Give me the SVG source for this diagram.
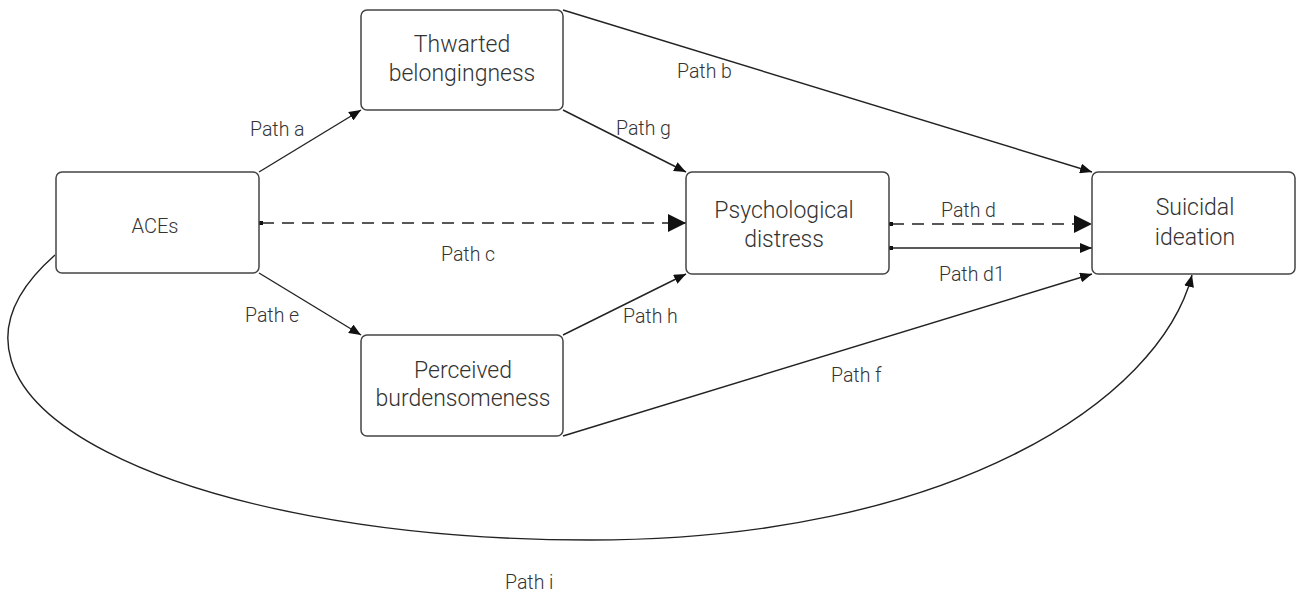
<svg xmlns="http://www.w3.org/2000/svg" width="1296" height="592" viewBox="0 0 1296 592">
  <defs>
    <marker id="arr" markerUnits="userSpaceOnUse" markerWidth="12" markerHeight="10" refX="12" refY="5" orient="auto">
      <path d="M0,0 L12,5 L0,10 z" fill="#111"/>
    </marker>
    <marker id="arrBig" markerUnits="userSpaceOnUse" markerWidth="18" markerHeight="18" refX="18" refY="9" orient="auto">
      <path d="M0,0 L18,9 L0,18 z" fill="#111"/>
    </marker>
    <style>
      .box { fill: #fff; stroke: #444; stroke-width: 1.5; }
      .ntext { font-family: Roboto, "Liberation Sans", sans-serif; font-weight: 300; font-size: 23px; fill: #333; text-anchor: middle; }
      .small { font-size: 20px; }
      .lbl { font-family: Roboto, "Liberation Sans", sans-serif; font-weight: 300; font-size: 19.5px; fill: #333; }
      .ln { fill: none; stroke: #222; stroke-width: 1.4; }
      .dash { fill: none; stroke: #222; stroke-width: 1.6; stroke-dasharray: 12 8; }
    </style>
  </defs>
  <rect width="1296" height="592" fill="#fff"/>

  <g id="connectors">
    <line class="ln" x1="259" y1="172" x2="361" y2="110" marker-end="url(#arr)"/>
    <line class="ln" x1="563" y1="10" x2="1092" y2="172" marker-end="url(#arr)"/>
    <line class="ln" x1="563" y1="110" x2="686" y2="172" marker-end="url(#arr)"/>
    <line class="dash" x1="262" y1="223" x2="686" y2="223" marker-end="url(#arrBig)"/>
    <rect x="259" y="221" width="4" height="4" fill="#111"/>
    <line class="ln" x1="259" y1="273" x2="361" y2="335" marker-end="url(#arr)"/>
    <line class="ln" x1="563" y1="335" x2="686" y2="274" marker-end="url(#arr)"/>
    <line class="ln" x1="563" y1="436" x2="1092" y2="274" marker-end="url(#arr)"/>
    <line class="dash" x1="892" y1="224" x2="1092" y2="224" marker-end="url(#arrBig)"/>
    <rect x="889" y="222" width="4" height="4" fill="#111"/>
    <line class="ln" x1="889" y1="248" x2="1092" y2="248" marker-end="url(#arr)"/>
    <rect x="889" y="246" width="4" height="4" fill="#111"/>
    <path class="ln" d="M55,255 C-110,400 180,540 590,540 C950,540 1160,400 1192,275" marker-end="url(#arr)"/>
  </g>

  <g id="node-aces">
    <rect class="box" x="56" y="172" width="203" height="101" rx="6"/>
    <text class="ntext small" x="155" y="233">ACEs</text>
  </g>
  <g id="node-thwarted">
    <rect class="box" x="361" y="10" width="202" height="100" rx="6"/>
    <text class="ntext" x="462" y="52">Thwarted</text>
    <text class="ntext" x="462" y="81">belongingness</text>
  </g>
  <g id="node-perceived">
    <rect class="box" x="361" y="335" width="202" height="101" rx="6"/>
    <text class="ntext" x="463" y="378">Perceived</text>
    <text class="ntext" x="463" y="406">burdensomeness</text>
  </g>
  <g id="node-distress">
    <rect class="box" x="686" y="172" width="203" height="102" rx="6"/>
    <text class="ntext" x="784" y="218">Psychological</text>
    <text class="ntext" x="784" y="247">distress</text>
  </g>
  <g id="node-ideation">
    <rect class="box" x="1092" y="172" width="203" height="102" rx="6"/>
    <text class="ntext" x="1195" y="215">Suicidal</text>
    <text class="ntext" x="1195" y="245">ideation</text>
  </g>

  <g id="labels">
    <text class="lbl" x="250" y="135.5">Path a</text>
    <text class="lbl" x="677" y="78">Path b</text>
    <text class="lbl" x="616" y="135">Path g</text>
    <text class="lbl" x="441" y="261">Path c</text>
    <text class="lbl" x="941" y="217">Path d</text>
    <text class="lbl" x="939" y="281">Path d1</text>
    <text class="lbl" x="245" y="322">Path e</text>
    <text class="lbl" x="623" y="323">Path h</text>
    <text class="lbl" x="831" y="382">Path f</text>
    <text class="lbl" x="505" y="589">Path i</text>
  </g>
</svg>
